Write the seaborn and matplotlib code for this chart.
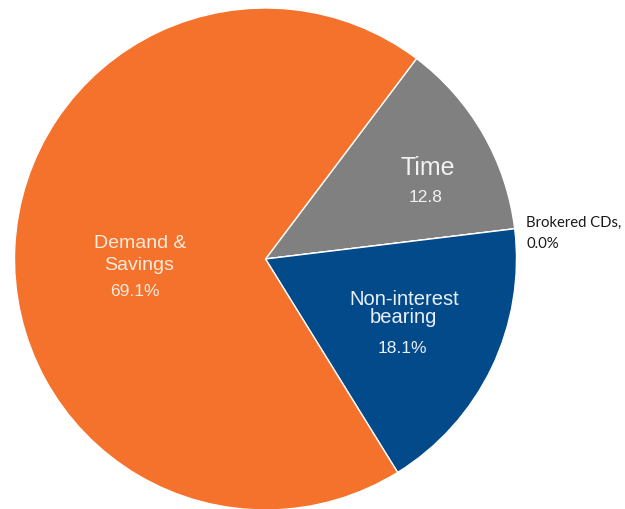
import matplotlib
matplotlib.use("Agg")
import matplotlib.pyplot as plt
import seaborn as sns

# ---- data ----
categories = ["Time", "Brokered CDs", "Non-interest bearing", "Demand & Savings"]
shares = [12.8, 0.0, 18.1, 69.1]
colors = ["#808080", "#9BBB59", "#034A8A", "#F4722B"]

sns.set_theme(style="white")
plt.rcParams["font.family"] = ["Liberation Sans", "DejaVu Sans"]

fig = plt.figure(figsize=(6.25, 5.09), dpi=100)
cx, cy, r = 265.5, 259, 251
W, H = 625, 509
ax = fig.add_axes([(cx - r) / W, (H - cy - r) / H, 2 * r / W, 2 * r / H])

ax.pie(shares, colors=colors, startangle=53, counterclock=False,
       wedgeprops=dict(edgecolor="white", linewidth=1.0), frame=False)
ax.set_xlim(-1, 1)
ax.set_ylim(-1, 1)
ax.set_aspect("equal")
ax.axis("off")


def px(x, y):
    return (x - cx) / r, (cy - y) / r


def label(x, y, s, size, color, **kw):
    ax.text(*px(x, y), s, ha="center", va="baseline", fontsize=size, color=color, **kw)


light_o = "#FBEBDD"
light_g = "#F2F2F2"
light_b = "#EAF0F7"

# Time
label(427.5, 175, categories[0], 18, light_g)
label(426, 201.7, f"{shares[0]:.1f}", 12.5, light_g)
# Demand & Savings
label(140, 248.3, "Demand &", 14, light_o)
label(139, 270, "Savings", 14, light_o)
label(135, 296, f"{shares[3]:.1f}%", 12.5, light_o)
# Non-interest bearing
label(404, 305, "Non-interest", 14.5, light_b)
label(403.7, 323.3, "bearing", 14.5, light_b)
label(402.5, 353.3, f"{shares[2]:.1f}%", 12.5, light_b)
# Brokered CDs
ax.text(*px(526.5, 227.3), "Brokered CDs,", ha="left", va="baseline", fontsize=10.7,
        color="#1A1A1A", family=["Lato", "DejaVu Sans"])
ax.text(*px(526.5, 248.3), f"{shares[1]:.1f}%", ha="left", va="baseline", fontsize=10.7,
        color="#1A1A1A", family=["Lato", "DejaVu Sans"])

fig.savefig("out.png", dpi=100)
